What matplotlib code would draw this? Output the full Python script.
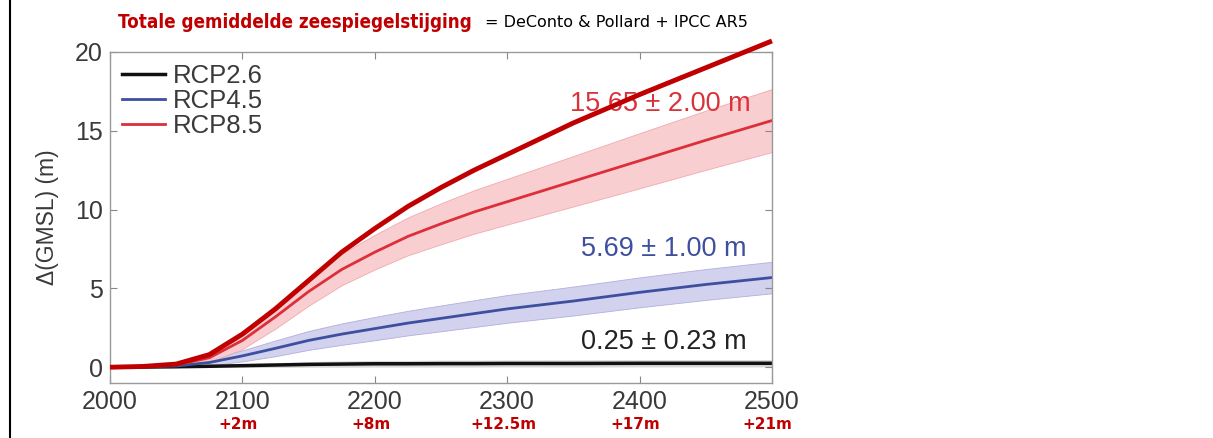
"""
Zeespiegelstijging per RCP-scenario (DeConto & Pollard) plus totale stijging.
"""
import matplotlib

matplotlib.use("Agg")

import matplotlib.pyplot as plt
from matplotlib.lines import Line2D
import numpy as np

YEARS = [2000, 2025, 2050, 2075, 2100, 2125, 2150, 2175, 2200, 2225, 2250, 2275, 2300,
         2350, 2400, 2450, 2500]

RCP26_MEAN = [0.0, 0.01, 0.03, 0.06, 0.1, 0.14, 0.18, 0.2, 0.22, 0.22, 0.23, 0.23, 0.24,
              0.24, 0.25, 0.25, 0.25]
RCP26_ERR = [0.0, 0.02, 0.05, 0.08, 0.12, 0.15, 0.18, 0.2, 0.21, 0.21, 0.22, 0.22, 0.22,
             0.23, 0.23, 0.23, 0.23]

RCP45_MEAN = [0.0, 0.02, 0.08, 0.3, 0.72, 1.2, 1.7, 2.1, 2.45, 2.8, 3.1, 3.4, 3.7,
              4.2, 4.75, 5.25, 5.69]
RCP45_ERR = [0.0, 0.02, 0.08, 0.2, 0.35, 0.5, 0.6, 0.68, 0.74, 0.78, 0.82, 0.85, 0.88,
             0.92, 0.95, 0.98, 1.0]

RCP85_MEAN = [0.0, 0.03, 0.15, 0.6, 1.7, 3.2, 4.8, 6.2, 7.3, 8.3, 9.1, 9.85, 10.5,
              11.8, 13.1, 14.4, 15.65]
RCP85_ERR = [0.0, 0.03, 0.1, 0.3, 0.55, 0.75, 0.9, 1.0, 1.1, 1.2, 1.3, 1.38, 1.45,
             1.6, 1.75, 1.88, 2.0]

TOTAL = [0.0, 0.05, 0.2, 0.8, 2.1, 3.7, 5.5, 7.3, 8.8, 10.2, 11.4, 12.5, 13.5,
         15.5, 17.3, 19.0, 20.7]

TOTAL_LABELS = ["+2m", "+8m", "+12.5m", "+17m", "+21m"]
TOTAL_LABEL_YEARS = [2100, 2200, 2300, 2400, 2500]

DARK_RED = "#c00000"
GREY = "#3a3a3a"
AX_FONT = "Liberation Sans"


def main() -> None:
    years = np.array(YEARS)
    fig = plt.figure(figsize=(12.13, 4.38), dpi=100)
    ax = fig.add_axes([0.0907, 0.1256, 0.5457, 0.7557])

    # onzekerheidsbanden
    ax.fill_between(years, np.array(RCP26_MEAN) - RCP26_ERR, np.array(RCP26_MEAN) + RCP26_ERR,
                    color="#bbbbbb", alpha=0.6, lw=0)
    ax.fill_between(years, np.array(RCP45_MEAN) - RCP45_ERR, np.array(RCP45_MEAN) + RCP45_ERR,
                    color="#cbc9ec", alpha=0.85, lw=0.6, edgecolor="#a9a6d8")
    ax.fill_between(years, np.array(RCP85_MEAN) - RCP85_ERR, np.array(RCP85_MEAN) + RCP85_ERR,
                    color="#f7c6c9", alpha=0.85, lw=0.6, edgecolor="#eea0a6")

    ax.plot(years, RCP26_MEAN, color="#111111", lw=2.5, label="RCP2.6")
    ax.plot(years, RCP45_MEAN, color="#3d4f9e", lw=2.0, label="RCP4.5")
    ax.plot(years, RCP85_MEAN, color="#dd2f39", lw=2.0, label="RCP8.5")

    # totale stijging (dikke rode lijn)
    ax.plot(years, TOTAL, color=DARK_RED, lw=3.5, clip_on=False, zorder=5,
            solid_capstyle="butt", solid_joinstyle="round")

    ax.set_xlim(2000, 2500)
    ax.set_ylim(-1, 20)
    ax.set_xticks([2000, 2100, 2200, 2300, 2400, 2500])
    ax.set_yticks([0, 5, 10, 15, 20])
    ax.tick_params(direction="in", top=True, right=True, length=5, width=0.8,
                   color="#888888", labelsize=18, labelcolor=GREY, pad=5)
    for lab in ax.get_xticklabels() + ax.get_yticklabels():
        lab.set_family(AX_FONT)
    for spine in ax.spines.values():
        spine.set_color("#999999")
        spine.set_linewidth(1.0)
    ax.set_ylabel("Δ(GMSL) (m)", fontsize=16.5, color=GREY, labelpad=12, family=AX_FONT)

    ax.text(2416, 16.7, "15.65 ± 2.00 m", color="#d9323a", fontsize=19.5, ha="center",
            va="center", family=AX_FONT)
    ax.text(2418, 7.5, "5.69 ± 1.00 m", color="#3d4f9e", fontsize=19.5, ha="center",
            va="center", family=AX_FONT)
    ax.text(2418, 1.6, "0.25 ± 0.23 m", color="#222222", fontsize=19.5, ha="center",
            va="center", family=AX_FONT)

    leg = ax.legend(loc="upper left", frameon=False, handlelength=1.7,
                    handletextpad=0.3, labelspacing=0.05, borderaxespad=0.05,
                    prop={"family": AX_FONT, "size": 18.5})
    for text in leg.get_texts():
        text.set_color(GREY)

    for year, label in zip(TOTAL_LABEL_YEARS, TOTAL_LABELS):
        ax.annotate(label, xy=(year, 0), xycoords=("data", "figure fraction"),
                    xytext=(-3, 10), textcoords="offset points", ha="center", va="center",
                    color=DARK_RED, fontsize=11, fontweight="bold")

    fig.text(0.0973, 0.948, "Totale gemiddelde zeespiegelstijging", color=DARK_RED,
             fontsize=13.5, fontweight="bold", ha="left", va="center", fontstretch="condensed")
    fig.text(0.400, 0.948, "= DeConto & Pollard + IPCC AR5", color="black",
             fontsize=11.5, ha="left", va="center")

    fig.add_artist(Line2D([10 / 1213, 10 / 1213], [0, 1], color="black", lw=1.5))

    fig.savefig("out.png", dpi=100)
    plt.close(fig)


if __name__ == "__main__":
    main()
